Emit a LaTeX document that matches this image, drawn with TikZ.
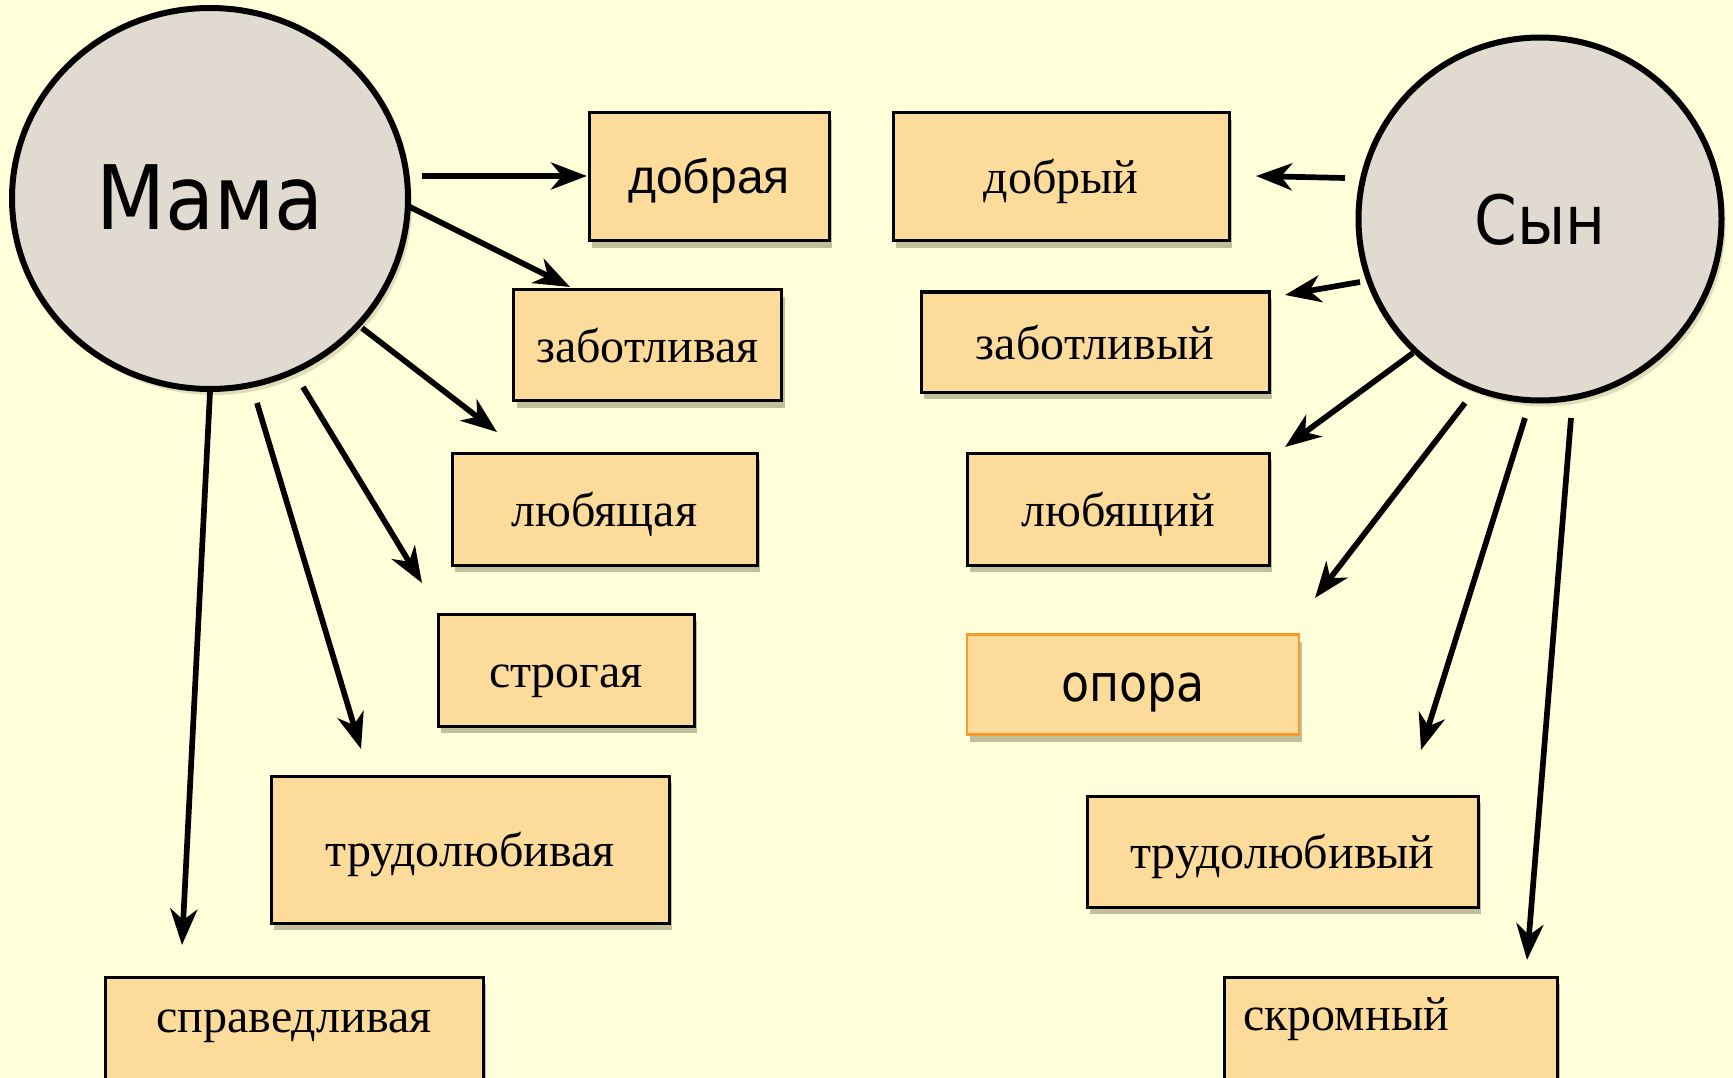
\documentclass[tikz,border=0pt]{standalone}
\usepackage{fontspec}
\setmainfont{Liberation Serif}
\newfontfamily\dvsans{DejaVu Sans Condensed}
\newfontfamily\arsans{Liberation Sans}
\usetikzlibrary{arrows.meta,shadows,shapes.geometric}
\definecolor{bg}{RGB}{255,255,217}
\definecolor{boxfill}{RGB}{253,219,155}
\definecolor{circfill}{RGB}{224,218,208}
\definecolor{oporaline}{RGB}{245,155,50}
\definecolor{shadowc}{RGB}{80,75,40}
\begin{document}
\begin{tikzpicture}[x=1pt,y=-1pt,
  wbox/.style={draw=black, line width=3pt, fill=boxfill, inner sep=0pt,
    text height=44pt, text depth=10pt,
    drop shadow={shadow xshift=3pt, shadow yshift=-7pt, opacity=0.35, fill=shadowc},
    font=\fontsize{48}{52}\selectfont},
  bubble/.style={ellipse, draw=black, line width=6pt, fill=circfill, inner sep=0pt,
    drop shadow={shadow xshift=4pt, shadow yshift=-6pt, opacity=0.18, fill=shadowc},
    font=\dvsans\fontsize{89}{93}\selectfont},
  arr/.style={line width=5.7pt, -{Stealth[length=36pt,width=27pt,inset=11pt]}},
  lbl/.style={inner sep=0pt, font=\fontsize{48}{52}\selectfont}]
\clip (0,0) rectangle (1733,1078);
\fill[bg] (0,0) rectangle (1733,1078);

% circles
\node[bubble, minimum width=396pt, minimum height=381pt,
      text height=76pt, text depth=13pt] (mama) at (210,198.5) {Мама};
\node[bubble, minimum width=363pt, minimum height=363pt,
      font=\dvsans\fontsize{68}{72}\selectfont, text height=62pt, text depth=10pt] (syn) at (1540,219) {Сын};

% left boxes
\node[wbox, minimum width=240pt, minimum height=128pt, font=\arsans\fontsize{48}{52}\selectfont] (dobraya) at (709,177) {добрая};
\node[wbox, minimum width=268pt, minimum height=111pt] (zabotlivaya) at (647.5,345) {заботливая};
\node[wbox, minimum width=305pt, minimum height=112pt] (lyubyashchaya) at (604.5,509) {любящая};
\node[wbox, minimum width=256pt, minimum height=112pt] (strogaya) at (566,670) {строгая};
\node[wbox, minimum width=398pt, minimum height=147pt] (trudolyubivaya) at (470,849.5) {трудолюбивая};
\node[wbox, minimum width=378pt, minimum height=126pt] (spravbox) at (294,1040) {};
\node[lbl, anchor=base] (spravtext) at (294,1032) {справедливая};

% right boxes
\node[wbox, minimum width=336pt, minimum height=128pt] (dobryi) at (1061,177) {добрый};
\node[wbox, minimum width=348pt, minimum height=100pt] (zabotlivyi) at (1095,342) {заботливый};
\node[wbox, minimum width=302pt, minimum height=112pt] (lyubyashchii) at (1118,509) {любящий};
\node[wbox, draw=oporaline, line width=2.2pt, minimum width=332pt, minimum height=100pt,
      font=\dvsans\fontsize{51}{55}\selectfont] (opora) at (1133,684.5) {опора};
\node[wbox, minimum width=391pt, minimum height=111pt] (trudolyubivyi) at (1282.5,851.5) {трудолюбивый};
\node[wbox, minimum width=333pt, minimum height=126pt] (skrombox) at (1390.5,1040) {};
\node[lbl, anchor=base west] (skromtext) at (1243,1030) {скромный};

% arrow end points
\coordinate (m1a) at (422,176);  \coordinate (m1b) at (587,176);
\coordinate (m2a) at (410,207);  \coordinate (m2b) at (570,287);
\coordinate (m3a) at (362,328);  \coordinate (m3b) at (497,432);
\coordinate (m4a) at (303,387);  \coordinate (m4b) at (422,583);
\coordinate (m5a) at (257,403);  \coordinate (m5b) at (361,749);
\coordinate (m6a) at (210,392);  \coordinate (m6b) at (182,945);
\coordinate (s1a) at (1345,178); \coordinate (s1b) at (1256,176);
\coordinate (s2a) at (1360,282); \coordinate (s2b) at (1285,295);
\coordinate (s3a) at (1413,353); \coordinate (s3b) at (1285,447);
\coordinate (s4a) at (1465,403); \coordinate (s4b) at (1315,598);
\coordinate (s5a) at (1525,418); \coordinate (s5b) at (1421,750);
\coordinate (s6a) at (1571,418); \coordinate (s6b) at (1527,960);

\foreach \a in {m1,m2,m3,m4,m5,m6,s1,s2,s3,s4,s5,s6}
  \draw[arr] (\a a) -- (\a b);
\end{tikzpicture}
\end{document}
